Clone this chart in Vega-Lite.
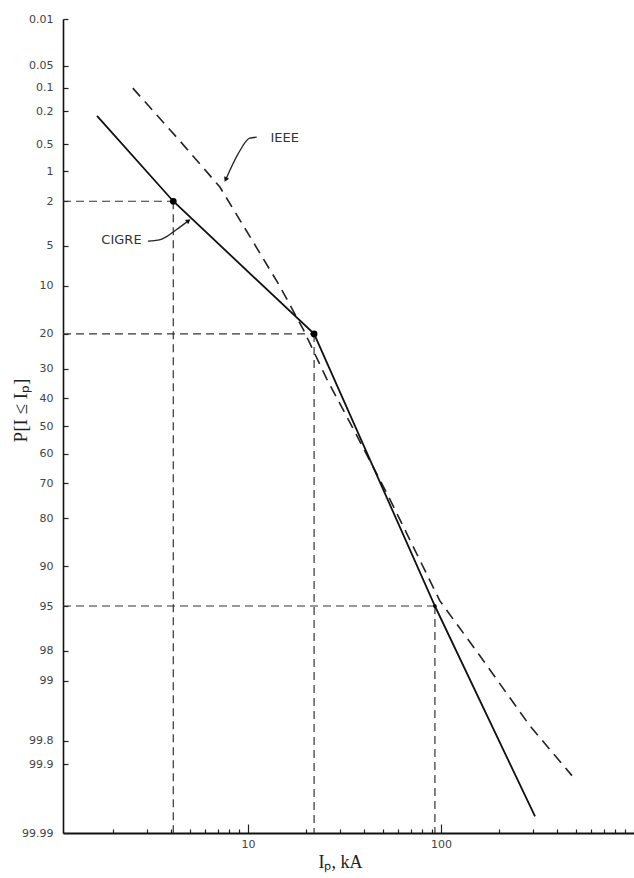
{
  "$schema": "https://vega.github.io/schema/vega-lite/v6.json",
  "width": 571,
  "height": 814,
  "autosize": {"type": "none"},
  "padding": {"left": 63, "top": 19, "right": 0, "bottom": 45},
  "background": "white",
  "config": {"view": {"stroke": null}, "axis": {"grid": false}},
  "data": {
    "values": [
      {"k": "CIGRE", "I": 1.65, "P": 0.23},
      {"k": "CIGRE", "I": 4.1, "P": 2},
      {"k": "CIGRE", "I": 22, "P": 20},
      {"k": "CIGRE", "I": 93, "P": 95},
      {"k": "CIGRE", "I": 307, "P": 99.982},
      {"k": "IEEE", "I": 2.53, "P": 0.101},
      {"k": "IEEE", "I": 4.44, "P": 0.46},
      {"k": "IEEE", "I": 7.15, "P": 1.45},
      {"k": "IEEE", "I": 10.2, "P": 4.14},
      {"k": "IEEE", "I": 14.6, "P": 10.05},
      {"k": "IEEE", "I": 19.3, "P": 18.8},
      {"k": "IEEE", "I": 25.6, "P": 33.4},
      {"k": "IEEE", "I": 36.7, "P": 53.6},
      {"k": "IEEE", "I": 54.3, "P": 74.8},
      {"k": "IEEE", "I": 98.7, "P": 94.5},
      {"k": "IEEE", "I": 159, "P": 98.21},
      {"k": "IEEE", "I": 289, "P": 99.693},
      {"k": "IEEE", "I": 477, "P": 99.93},
      {"k": "pt", "I": 4.1, "P": 2},
      {"k": "pt", "I": 22, "P": 20},
      {"k": "pt", "I": 93, "P": 95},
      {"k": "lbl", "t": "IEEE", "I": 15.5, "P": 0.43},
      {"k": "lbl", "t": "CIGRE", "I": 2.21, "P": 4.47},
      {"k": "lead", "g": "ieee", "I": 11.1, "P": 0.416},
      {"k": "lead", "g": "ieee", "I": 10.2, "P": 0.427},
      {"k": "lead", "g": "ieee", "I": 8.87, "P": 0.65},
      {"k": "lead", "g": "ieee", "I": 7.69, "P": 1.2},
      {"k": "lead", "g": "cigre", "I": 3.03, "P": 4.56},
      {"k": "lead", "g": "cigre", "I": 3.58, "P": 4.38},
      {"k": "lead", "g": "cigre", "I": 4.23, "P": 3.67},
      {"k": "lead", "g": "cigre", "I": 4.88, "P": 3.06},
      {"k": "tip", "g": "ieee", "I": 7.69, "P": 1.2},
      {"k": "tip", "g": "cigre", "I": 4.88, "P": 3.06}
    ]
  },
  "transform": [{"calculate": "quantileNormal(datum.P/100)", "as": "z"}],
  "encoding": {
    "x": {
      "field": "I",
      "type": "quantitative",
      "scale": {"type": "log", "domain": [1.1, 1000], "nice": false},
      "axis": {
        "title": "Iₚ, kA",
        "values": [2, 3, 4, 5, 6, 7, 8, 9, 10, 20, 30, 40, 50, 60, 70, 80, 90, 100, 200, 300, 400, 500, 600, 700, 800, 900, 1000],
        "labelExpr": "datum.value == 10 ? '10' : (datum.value == 100 ? '100' : '')",
        "tickSize": {"condition": {"test": "datum.value == 10 || datum.value == 100", "value": -9}, "value": -4},
        "tickWidth": 1.2,
        "tickColor": "#222",
        "domainColor": "#111",
        "domainWidth": 2.2,
        "labelPadding": 14,
        "labelFont": "DejaVu Sans",
        "labelFontSize": 11,
        "labelColor": "#444",
        "labelOverlap": false,
        "labelFlush": false,
        "titleFont": "Liberation Serif",
        "titleFontSize": 18,
        "titleFontWeight": "normal",
        "titleColor": "#222",
        "titleX": 277,
        "titleY": 29,
        "titleBaseline": "middle"
      }
    },
    "y": {
      "field": "z",
      "type": "quantitative",
      "scale": {"domain": [-3.719, 3.719], "reverse": true, "nice": false, "zero": false},
      "axis": {
        "title": "P[I ≤ Iₚ]",
        "values": [-3.719, -3.2905, -3.0902, -2.8782, -2.5758, -2.3263, -2.0537, -1.6449, -1.2816, -0.8416, -0.5244, -0.2533, 0, 0.2533, 0.5244, 0.8416, 1.2816, 1.6449, 2.0537, 2.3263, 2.8782, 3.0902, 3.719],
        "labelExpr": "toString(round(cumulativeNormal(datum.value) * 10000) / 100)",
        "tickSize": -5,
        "tickWidth": 1.2,
        "tickColor": "#222",
        "domainColor": "#111",
        "domainWidth": 1.6,
        "labelPadding": 15,
        "labelFont": "DejaVu Sans",
        "labelFontSize": 11,
        "labelColor": "#444",
        "labelOverlap": false,
        "labelFlush": false,
        "titleFont": "Liberation Serif",
        "titleFontSize": 19,
        "titleFontWeight": "normal",
        "titleColor": "#222",
        "titleX": -43,
        "titleY": 391,
        "titleBaseline": "middle"
      }
    }
  },
  "layer": [
    {
      "transform": [{"filter": "datum.k == 'pt'"}],
      "mark": {"type": "rule", "strokeDash": [8, 5], "strokeWidth": 1.2, "color": "#333"},
      "encoding": {"x": {"datum": 1.1, "type": "quantitative"}, "x2": {"field": "I"}}
    },
    {
      "transform": [{"filter": "datum.k == 'pt'"}],
      "mark": {"type": "rule", "strokeDash": [8, 5], "strokeWidth": 1.2, "color": "#333"},
      "encoding": {"y2": {"datum": 3.719}}
    },
    {
      "transform": [{"filter": "datum.k == 'IEEE'"}],
      "mark": {"type": "line", "strokeDash": [11, 7], "strokeWidth": 1.6, "color": "#222"}
    },
    {
      "transform": [{"filter": "datum.k == 'CIGRE'"}],
      "mark": {"type": "line", "strokeWidth": 1.8, "color": "#111"}
    },
    {
      "transform": [{"filter": "datum.k == 'pt'"}],
      "mark": {"type": "point", "filled": true, "color": "#000", "opacity": 1},
      "encoding": {"size": {"condition": {"test": "datum.P > 90", "value": 14}, "value": 45}}
    },
    {
      "transform": [{"filter": "datum.k == 'lead'"}],
      "mark": {"type": "line", "strokeWidth": 1.3, "color": "#222", "interpolate": "monotone"},
      "encoding": {"detail": {"field": "g"}}
    },
    {
      "transform": [{"filter": "datum.k == 'tip'"}],
      "mark": {"type": "point", "shape": "triangle", "filled": true, "color": "#111", "opacity": 1, "size": 30},
      "encoding": {"angle": {"condition": {"test": "datum.g == 'ieee'", "value": 206}, "value": 53}}
    },
    {
      "transform": [{"filter": "datum.k == 'lbl'"}],
      "mark": {"type": "text", "font": "DejaVu Sans", "fontSize": 13, "color": "#333", "align": "center", "baseline": "middle"},
      "encoding": {"text": {"field": "t"}}
    }
  ]
}
